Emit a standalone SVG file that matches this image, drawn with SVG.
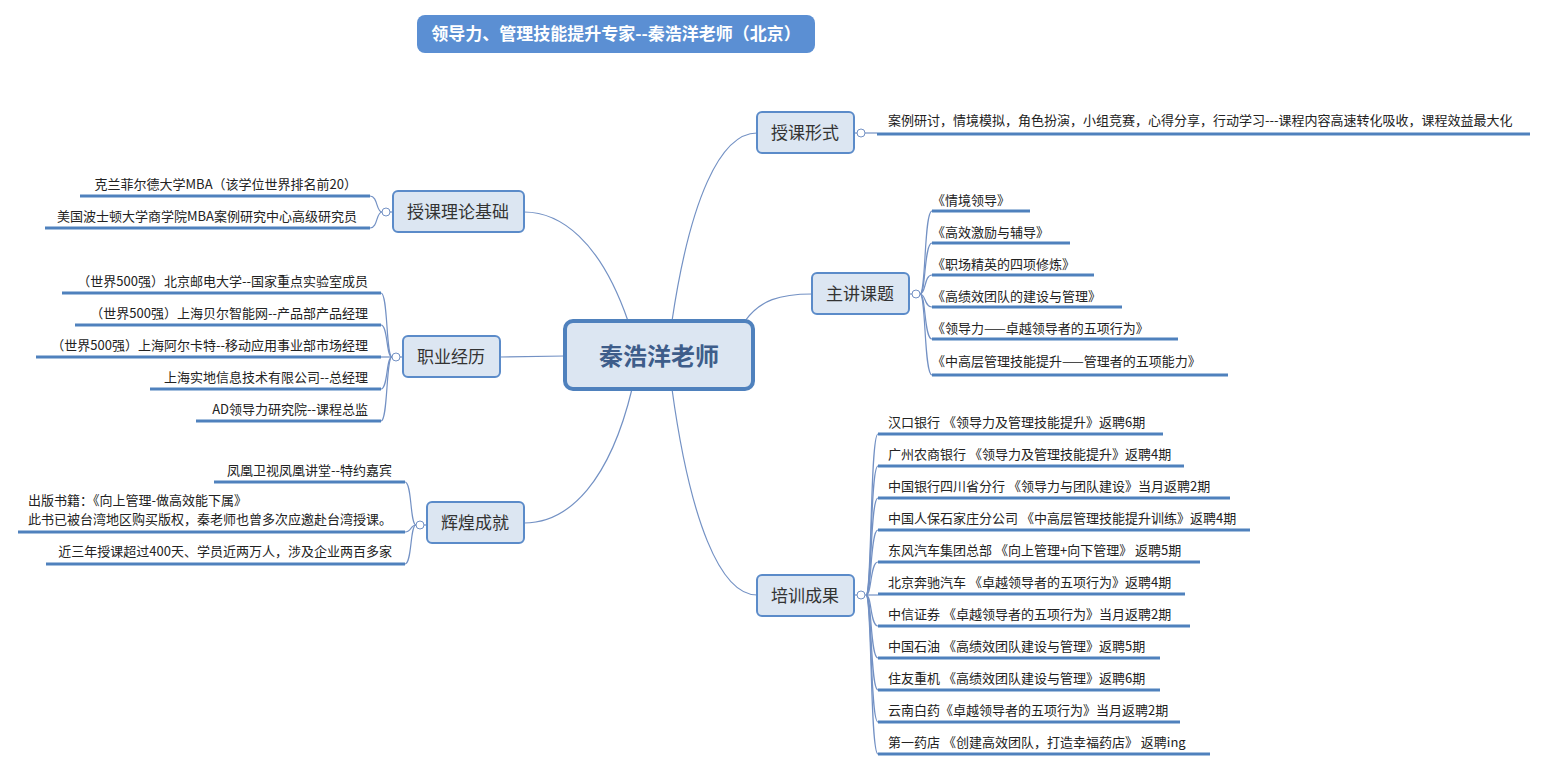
<svg xmlns="http://www.w3.org/2000/svg" width="1547" height="772" viewBox="0 0 1547 772">
<style>
text{font-family:"Noto Sans CJK SC","Liberation Sans",sans-serif;fill:#222}
.leaf{font-size:13px}
.lr{font-size:13px;text-anchor:end}
.node rect{fill:#dce6f2;stroke:#5b8bc9;stroke-width:2}
.node text{font-size:17px;text-anchor:middle;fill:#333}
.ul{stroke:#4f81bd;stroke-width:3;fill:none}
.c{stroke:#7391c4;stroke-width:1.2;fill:none}
.k{fill:#fff;stroke:#7391c4;stroke-width:1}
</style>
<rect width="1547" height="772" fill="#fff"/>
<g id="title"><rect x="417" y="15" width="398" height="38" rx="8" fill="#5b8fd3"/><text x="616" y="40" font-size="17" font-weight="bold" text-anchor="middle" style="fill:#fff">领导力、管理技能提升专家--秦浩洋老师（北京）</text></g>
<g id="connectors">
<path class="c" d="M672 321 C690 200 720 133 757 133"/>
<path class="c" d="M745 321 C760 300 780 294 812 294"/>
<path class="c" d="M672 389 C690 520 720 595 757 595"/>
<path class="c" d="M628 321 C600 240 560 212 524 212"/>
<path class="c" d="M565 356 L500 357"/>
<path class="c" d="M632 389 C610 480 570 523 524 523"/>
<path class="c" d="M854 133 H877"/>
<path class="c" d="M909 294 H920"/>
<path class="c" d="M854 595 H866"/>
<path class="c" d="M393 212 H382"/>
<path class="c" d="M403 357 H392"/>
<path class="c" d="M427 525 H416"/>
<g class="c">
<path d="M920 294 C926 294 924 211 932 211"/><path d="M920 294 C926 294 924 243 932 243"/><path d="M920 294 C926 294 924 275 932 275"/><path d="M920 294 C926 294 924 307 932 307"/><path d="M920 294 C926 294 924 339 932 339"/><path d="M920 294 C926 294 924 375 932 375"/>
</g>
<g class="c">
<path d="M866 595 C872 595 870 434 878 434"/><path d="M866 595 C872 595 870 466 878 466"/><path d="M866 595 C872 595 870 498 878 498"/><path d="M866 595 C872 595 870 530 878 530"/><path d="M866 595 C872 595 870 562 878 562"/><path d="M866 595 H878"/><path d="M866 595 C872 595 870 626 878 626"/><path d="M866 595 C872 595 870 658 878 658"/><path d="M866 595 C872 595 870 690 878 690"/><path d="M866 595 C872 595 870 722 878 722"/><path d="M866 595 C872 595 870 754 878 754"/>
</g>
<g class="c">
<path d="M382 212 C376 212 378 196 370 196"/><path d="M382 212 C376 212 378 228 370 228"/>
<path d="M392 357 C386 357 388 293 381 293"/><path d="M392 357 C386 357 388 325 381 325"/><path d="M392 357 H381"/><path d="M392 357 C386 357 388 389 381 389"/><path d="M392 357 C386 357 388 421 381 421"/>
<path d="M416 525 C410 525 412 482 405 482"/><path d="M416 525 C410 525 412 532 405 532"/><path d="M416 525 C410 525 412 564 405 564"/>
</g>
<g class="ul">
<path d="M877 134 H1530"/>
<path d="M932 211 H1030"/><path d="M932 243 H1070"/><path d="M932 275 H1094"/><path d="M932 307 H1122"/><path d="M932 339 H1178"/><path d="M932 375 H1228"/>
<path d="M878 434 H1163"/><path d="M878 466 H1184"/><path d="M878 498 H1230"/><path d="M878 530 H1250"/><path d="M878 562 H1200"/><path d="M878 594 H1185"/><path d="M878 626 H1190"/><path d="M878 658 H1160"/><path d="M878 690 H1160"/><path d="M878 722 H1180"/><path d="M878 754 H1210"/>
<path d="M80 196 H370"/><path d="M45 228 H370"/>
<path d="M62 293 H381"/><path d="M75 325 H381"/><path d="M36 357 H381"/><path d="M150 389 H381"/><path d="M196 421 H381"/>
<path d="M214 482 H405"/><path d="M18 532 H405"/><path d="M46 564 H405"/>
</g>
<circle class="k" cx="861" cy="133" r="4"/><circle class="k" cx="916" cy="294" r="4"/><circle class="k" cx="861" cy="595" r="4"/>
<circle class="k" cx="386" cy="212" r="4"/><circle class="k" cx="396" cy="357" r="4"/><circle class="k" cx="420" cy="525" r="4"/>
</g>
<g id="center"><rect x="565" y="321" width="188" height="68" rx="8" fill="#dce6f2" stroke="#4f81bd" stroke-width="4"/><text x="659" y="365" font-size="24" font-weight="bold" text-anchor="middle" style="fill:#3e5d8a">秦浩洋老师</text></g>
<g id="n1" class="node"><rect x="757" y="112" width="97" height="41" rx="5"/><text x="805" y="139">授课形式</text></g>
<g id="n2" class="node"><rect x="812" y="273" width="97" height="41" rx="5"/><text x="860" y="300">主讲课题</text></g>
<g id="n3" class="node"><rect x="757" y="575" width="97" height="41" rx="5"/><text x="805" y="602">培训成果</text></g>
<g id="n4" class="node"><rect x="393" y="191" width="131" height="41" rx="5"/><text x="458" y="218">授课理论基础</text></g>
<g id="n5" class="node"><rect x="403" y="336" width="97" height="41" rx="5"/><text x="451" y="363">职业经历</text></g>
<g id="n6" class="node"><rect x="427" y="502" width="97" height="41" rx="5"/><text x="475" y="529">辉煌成就</text></g>
<g id="leaves">
<text class="leaf" x="888" y="125">案例研讨，情境模拟，角色扮演，小组竞赛，心得分享，行动学习---课程内容高速转化吸收，课程效益最大化</text>
<text class="leaf" x="932" y="205">《情境领导》</text>
<text class="leaf" x="932" y="237">《高效激励与辅导》</text>
<text class="leaf" x="932" y="269">《职场精英的四项修炼》</text>
<text class="leaf" x="932" y="301">《高绩效团队的建设与管理》</text>
<text class="leaf" x="932" y="333">《领导力——卓越领导者的五项行为》</text>
<text class="leaf" x="932" y="366">《中高层管理技能提升——管理者的五项能力》</text>
<text class="leaf" x="888" y="427">汉口银行 《领导力及管理技能提升》返聘6期</text>
<text class="leaf" x="888" y="459">广州农商银行 《领导力及管理技能提升》返聘4期</text>
<text class="leaf" x="888" y="491">中国银行四川省分行 《领导力与团队建设》当月返聘2期</text>
<text class="leaf" x="888" y="523">中国人保石家庄分公司 《中高层管理技能提升训练》返聘4期</text>
<text class="leaf" x="888" y="555">东风汽车集团总部 《向上管理+向下管理》 返聘5期</text>
<text class="leaf" x="888" y="587">北京奔驰汽车 《卓越领导者的五项行为》返聘4期</text>
<text class="leaf" x="888" y="619">中信证券 《卓越领导者的五项行为》当月返聘2期</text>
<text class="leaf" x="888" y="651">中国石油 《高绩效团队建设与管理》返聘5期</text>
<text class="leaf" x="888" y="683">住友重机 《高绩效团队建设与管理》返聘6期</text>
<text class="leaf" x="888" y="715">云南白药《卓越领导者的五项行为》当月返聘2期</text>
<text class="leaf" x="888" y="747">第一药店 《创建高效团队，打造幸福药店》 返聘ing</text>
<text class="lr" x="357" y="189">克兰菲尔德大学MBA（该学位世界排名前20）</text>
<text class="lr" x="357" y="221">美国波士顿大学商学院MBA案例研究中心高级研究员</text>
<text class="lr" x="368" y="286">（世界500强）北京邮电大学--国家重点实验室成员</text>
<text class="lr" x="368" y="318">（世界500强）上海贝尔智能网--产品部产品经理</text>
<text class="lr" x="368" y="350">（世界500强）上海阿尔卡特--移动应用事业部市场经理</text>
<text class="lr" x="368" y="382">上海实地信息技术有限公司--总经理</text>
<text class="lr" x="368" y="414">AD领导力研究院--课程总监</text>
<text class="lr" x="392" y="475">凤凰卫视凤凰讲堂--特约嘉宾</text>
<text class="leaf" x="28" y="505">出版书籍：《向上管理-做高效能下属》</text>
<text class="leaf" x="28" y="524">此书已被台湾地区购买版权，秦老师也曾多次应邀赴台湾授课。</text>
<text class="lr" x="392" y="556">近三年授课超过400天、学员近两万人，涉及企业两百多家</text>
</g>
</svg>
